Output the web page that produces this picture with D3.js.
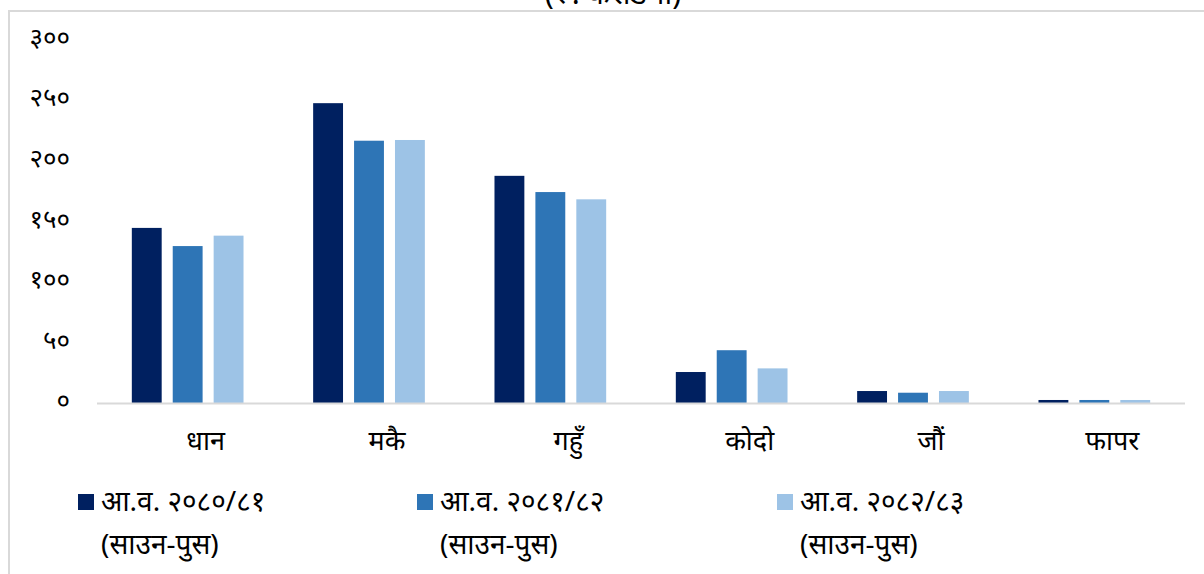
<!DOCTYPE html>
<html>
<head>
<meta charset="utf-8">
<script src="https://cdn.jsdelivr.net/npm/d3@7"></script>
<style>
  html, body { margin: 0; padding: 0; background: #fff; }
  svg { display: block; font-family: "Noto Sans", "Noto Sans Devanagari", sans-serif; }
</style>
</head>
<body>
<svg id="chart" width="1204" height="574"></svg>
<script>
const categories = ["धान", "मकै", "गहुँ", "कोदो", "जौं", "फापर"];
const seriesNames = ["आ.व. २०८०/८१", "आ.व. २०८१/८२", "आ.व. २०८२/८३"];
const seriesSub = ["(साउन-पुस)", "(साउन-पुस)", "(साउन-पुस)"];
const values2080 = [145, 248, 188, 26, 10.3, 2.9];
const values2081 = [130, 217, 174.6, 44, 8.9, 2.9];
const values2082 = [138.6, 217.6, 168.6, 29, 10.3, 2.9];
const yTicks = [0, 50, 100, 150, 200, 250, 300];
const colors = ["#002060", "#2e75b6", "#9dc3e6"];
const titleText = "(रु. करोडमा)";

const devDigits = "०१२३४५६७८९";
const toDev = n => String(n).replace(/[0-9]/g, d => devDigits[+d]);

const seriesValues = [values2080, values2081, values2082];
const svg = d3.select("#chart");

// frame
svg.append("rect").attr("x", 9).attr("y", 11).attr("width", 1300).attr("height", 700)
  .attr("fill", "none").attr("stroke", "#d9d9d9").attr("stroke-width", 2);

// title (cut off at top, as in the reference)
svg.append("text").attr("x", 613).attr("y", 4).attr("text-anchor", "middle")
  .attr("font-size", 30).attr("fill", "#000").text(titleText);

const x = d3.scaleBand().domain(categories).range([97, 1185]).paddingInner(0.384).paddingOuter(0.192);
const xs = d3.scaleBand().domain(d3.range(3)).range([0, x.bandwidth()]).paddingInner(0.27);
const y = d3.scaleLinear().domain([0, 300]).range([403.5, 40.2]);

// y labels
svg.append("g").selectAll("text").data(yTicks).join("text")
  .attr("x", 70).attr("y", d => y(d)).attr("dy", "0.22em")
  .attr("text-anchor", "end").attr("font-size", 26).attr("fill", "#000")
  .text(d => toDev(d));

// bars
const g = svg.append("g");
categories.forEach((c, i) => {
  seriesValues.forEach((vals, s) => {
    g.append("rect")
      .attr("x", x(c) + xs(s)).attr("width", xs.bandwidth())
      .attr("y", y(vals[i])).attr("height", y(0) - y(vals[i]))
      .attr("fill", colors[s]);
  });
});

// baseline
svg.append("line").attr("x1", 97).attr("x2", 1185).attr("y1", y(0)).attr("y2", y(0))
  .attr("stroke", "#d9d9d9").attr("stroke-width", 2);

// x labels
svg.append("g").selectAll("text").data(categories).join("text")
  .attr("x", d => x(d) + x.bandwidth() / 2 + 18).attr("y", 450)
  .attr("text-anchor", "middle").attr("font-size", 27).attr("fill", "#000")
  .text(d => d);

// legend
const legendX = [78, 417, 777];
const lg = svg.append("g");
seriesNames.forEach((name, s) => {
  lg.append("rect").attr("x", legendX[s]).attr("y", 494).attr("width", 16).attr("height", 16)
    .attr("fill", colors[s]);
  lg.append("text").attr("x", legendX[s] + 23).attr("y", 511).attr("font-size", 28)
    .attr("fill", "#000").text(name);
  lg.append("text").attr("x", legendX[s] + 23).attr("y", 554).attr("font-size", 28)
    .attr("fill", "#000").text(seriesSub[s]);
});
</script>
</body>
</html>
